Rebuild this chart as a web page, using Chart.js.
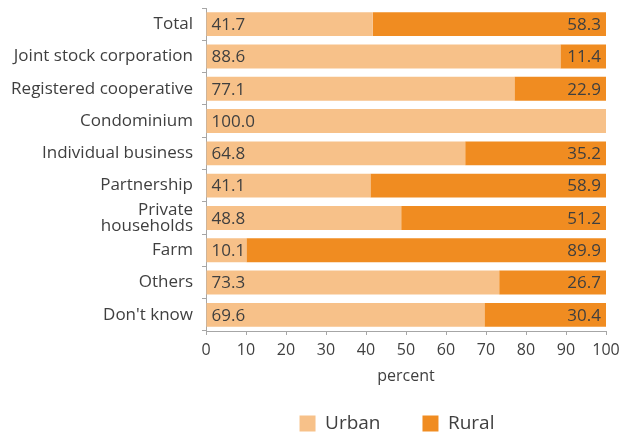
<!DOCTYPE html>
<html lang="en">
<head>
    <meta charset="UTF-8">
    <title>Urban / Rural by type of owner</title>
    <script src="https://cdn.jsdelivr.net/npm/chart.js"></script>
    <style>
        html, body { margin: 0; padding: 0; background: #fff; }
        .frame { width: 638px; height: 433px; overflow: hidden; }
        .chart-box { width: 638px; height: 443px; position: relative; }
    </style>
</head>
<body>
    <div class="frame">
        <div class="chart-box">
            <canvas id="ownerChart"></canvas>
        </div>
    </div>
    <script>
        const categories = [
            'Total', 'Joint stock corporation', 'Registered cooperative', 'Condominium',
            'Individual business', 'Partnership', ['Private', 'households'], 'Farm',
            'Others', "Don't know"
        ];
        const urban = [41.7, 88.6, 77.1, 100.0, 64.8, 41.1, 48.8, 10.1, 73.3, 69.6];
        const rural = [58.3, 11.4, 22.9, 0, 35.2, 58.9, 51.2, 89.9, 26.7, 30.4];
        const xTicks = [0, 10, 20, 30, 40, 50, 60, 70, 80, 90, 100];

        const FONT = "'Open Sans', 'Noto Sans', sans-serif";
        const TEXT = '#3f3f3f';
        const AXIS = '#a6a6a6';

        // writes the share inside each segment: urban at the left edge, rural at the right edge
        const segmentLabels = {
            id: 'segmentLabels',
            afterDatasetsDraw(chart) {
                const ctx = chart.ctx;
                ctx.save();
                ctx.font = '17px ' + FONT;
                ctx.fillStyle = TEXT;
                ctx.textBaseline = 'middle';
                chart.data.datasets.forEach((ds, di) => {
                    const meta = chart.getDatasetMeta(di);
                    meta.data.forEach((bar, i) => {
                        const v = ds.data[i];
                        if (!v) return;
                        const left = Math.min(bar.x, bar.base);
                        const right = Math.max(bar.x, bar.base);
                        if (di === 0) {
                            ctx.textAlign = 'left';
                            ctx.fillText(v.toFixed(1), left + 5, bar.y + 1);
                        } else {
                            ctx.textAlign = 'right';
                            ctx.fillText(v.toFixed(1), right - 5, bar.y + 1);
                        }
                    });
                });
                ctx.restore();
            }
        };

        // centre the legend under the plot rather than under the whole canvas
        const legendShift = {
            id: 'legendShift',
            afterLayout(chart) {
                if (chart.legend) {
                    chart.legend.left = 188;
                }
            }
        };

        new Chart(document.getElementById('ownerChart'), {
            type: 'bar',
            data: {
                labels: categories,
                datasets: [
                    {
                        label: 'Urban',
                        data: urban,
                        backgroundColor: '#f7c189',
                        barPercentage: 0.74,
                        categoryPercentage: 1
                    },
                    {
                        label: 'Rural',
                        data: rural,
                        backgroundColor: '#f08c21',
                        barPercentage: 0.74,
                        categoryPercentage: 1
                    }
                ]
            },
            options: {
                indexAxis: 'y',
                responsive: true,
                maintainAspectRatio: false,
                animation: false,
                layout: {
                    padding: { left: 0, right: 32, top: 8, bottom: 0 }
                },
                plugins: {
                    legend: {
                        position: 'bottom',
                        labels: {
                            boxWidth: 16,
                            boxHeight: 16,
                            padding: 42,
                            color: TEXT,
                            font: { family: FONT, size: 19 }
                        }
                    },
                    tooltip: { enabled: false }
                },
                scales: {
                    x: {
                        stacked: true,
                        min: 0,
                        max: 100,
                        afterBuildTicks(scale) {
                            scale.ticks = xTicks.map(v => ({ value: v }));
                        },
                        afterFit(scale) {
                            scale.height = 41;
                            scale.paddingLeft = 0;
                            scale.paddingRight = 0;
                        },
                        grid: {
                            drawOnChartArea: false,
                            drawTicks: true,
                            tickLength: 4,
                            color: AXIS
                        },
                        border: { color: AXIS },
                        ticks: {
                            padding: 6,
                            color: TEXT,
                            font: { family: FONT, size: 16 }
                        },
                        title: {
                            display: true,
                            text: 'percent',
                            color: TEXT,
                            padding: { top: 0, bottom: -14 },
                            font: { family: FONT, size: 16 }
                        }
                    },
                    y: {
                        stacked: true,
                        afterFit(scale) {
                            scale.width = 206;
                            scale.paddingTop = 0;
                            scale.paddingBottom = 0;
                        },
                        grid: {
                            drawOnChartArea: false,
                            drawTicks: true,
                            tickLength: 4,
                            color: AXIS
                        },
                        border: { color: AXIS },
                        ticks: {
                            autoSkip: false,
                            padding: 9,
                            color: TEXT,
                            font: { family: FONT, size: 17, lineHeight: 0.92 }
                        }
                    }
                }
            },
            plugins: [segmentLabels, legendShift]
        });
    </script>
</body>
</html>
